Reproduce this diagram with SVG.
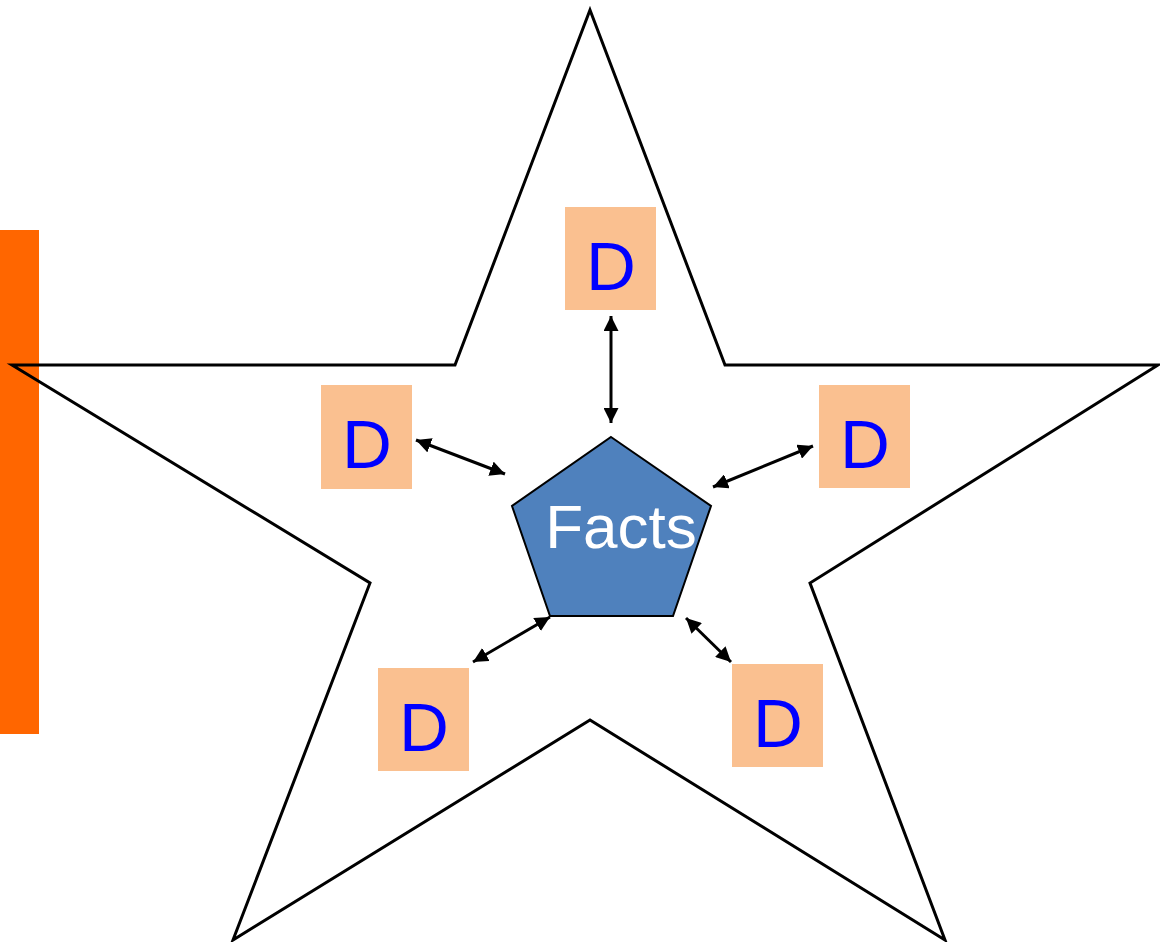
<svg xmlns="http://www.w3.org/2000/svg" width="1160" height="942" viewBox="0 0 1160 942">
<defs>
<marker id="ah" viewBox="0 0 10 10" refX="10" refY="5" markerWidth="5" markerHeight="5" orient="auto-start-reverse" markerUnits="strokeWidth">
<path d="M0,0 L10,5 L0,10 Z" fill="#000"/>
</marker>
<style>
.d rect{fill:#FAC090}
.d text{fill:#0000FF;font-family:"Liberation Sans",Arial,sans-serif;font-size:69px;text-anchor:middle}
.c line{stroke:#000;stroke-width:3;marker-start:url(#ah);marker-end:url(#ah)}
</style>
</defs>
<rect width="1160" height="942" fill="#fff"/>
<rect id="bar" x="0" y="230" width="39" height="504" fill="#FF6600"/>
<polygon id="star" points="590,10 725,365 1158,365 810,583 945,940 590,720 233,940 370,583 12,365 455,365" fill="none" stroke="#000" stroke-width="3" stroke-linejoin="miter"/>
<g id="facts">
<polygon points="611,437 711,506 673,616 550,616 512,506" fill="#4F81BD" stroke="#000" stroke-width="2"/>
<text x="621" y="548" fill="#fff" font-family="Liberation Sans,Arial,sans-serif" font-size="62" text-anchor="middle">Facts</text>
</g>
<g id="d-top" class="d"><rect x="565" y="207" width="91" height="103"/><text x="611" y="290">D</text></g>
<g id="d-left" class="d"><rect x="321" y="385" width="91" height="104"/><text x="367" y="468">D</text></g>
<g id="d-right" class="d"><rect x="819" y="385" width="91" height="103"/><text x="865" y="468">D</text></g>
<g id="d-bl" class="d"><rect x="378" y="668" width="91" height="103"/><text x="424" y="751">D</text></g>
<g id="d-br" class="d"><rect x="732" y="664" width="91" height="103"/><text x="778" y="747">D</text></g>
<g id="connectors" class="c">
<line x1="611" y1="316" x2="611" y2="423"/>
<line x1="416" y1="440" x2="505" y2="474"/>
<line x1="813" y1="446" x2="713" y2="487"/>
<line x1="473" y1="662" x2="550" y2="617"/>
<line x1="686" y1="618" x2="731" y2="662"/>
</g>
</svg>
